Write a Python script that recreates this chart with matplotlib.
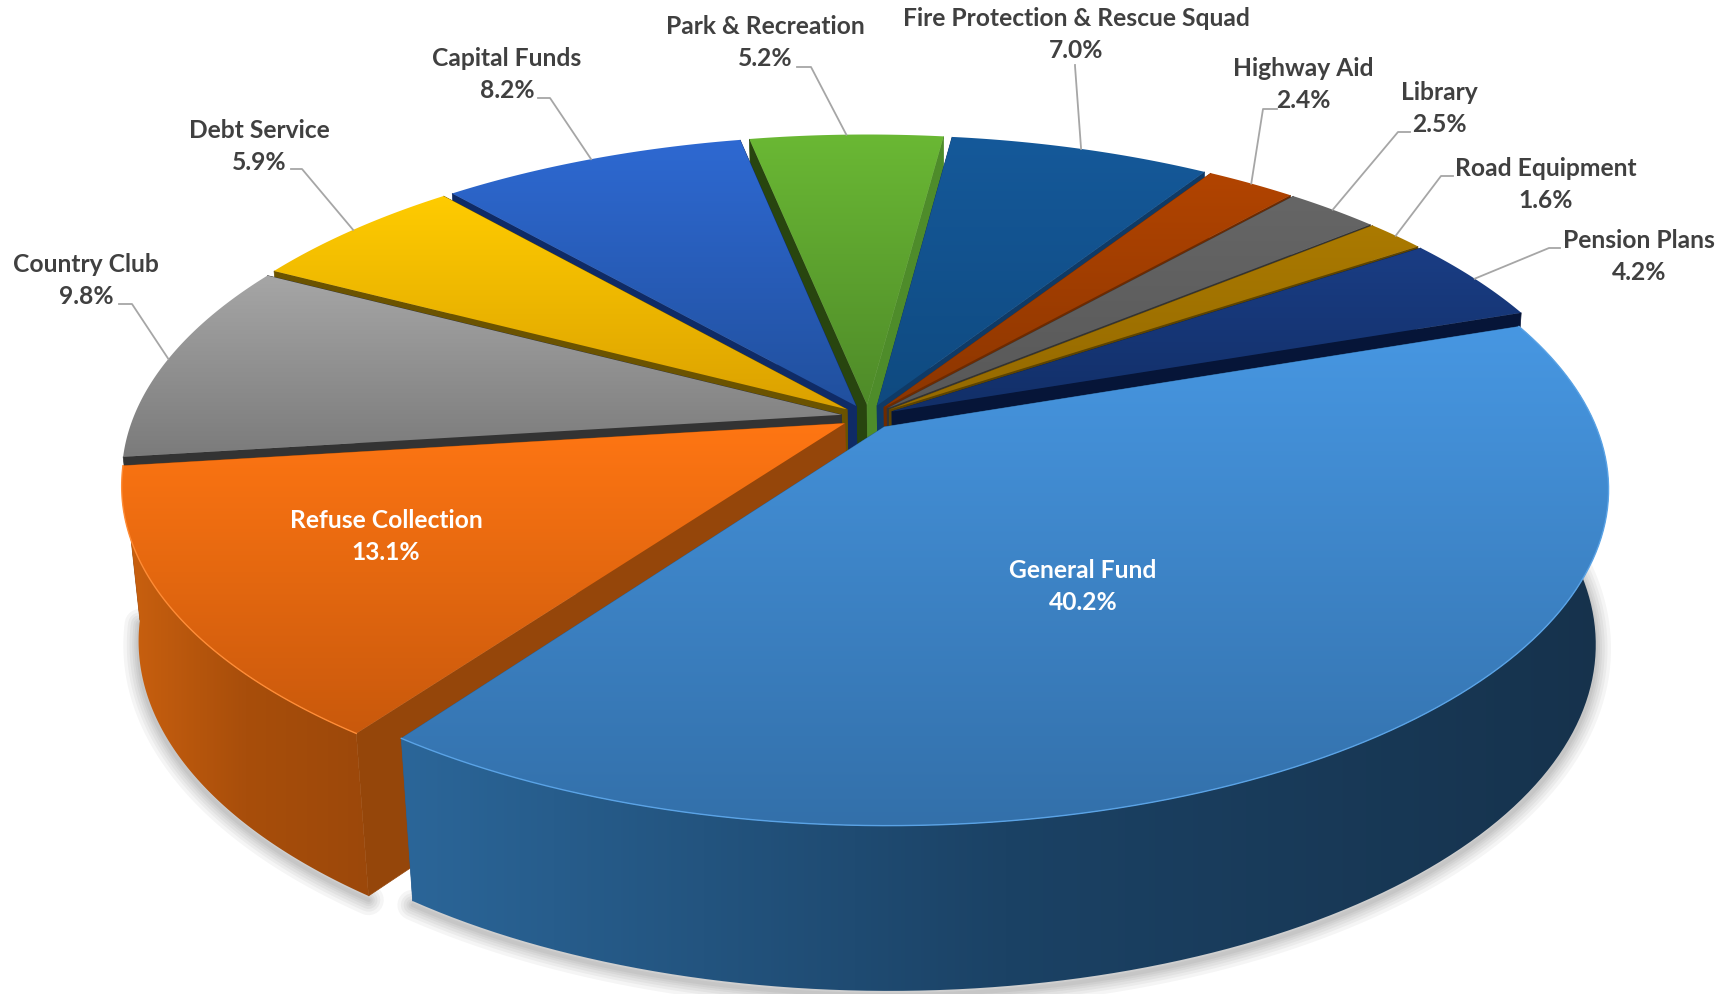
import numpy as np
import matplotlib
matplotlib.use("Agg")
import matplotlib.pyplot as plt
from matplotlib.colors import to_rgb
from matplotlib.patches import Polygon

plt.rcParams['font.family'] = ['Lato', 'DejaVu Sans']

# data, clockwise from the General Fund
names = ['General Fund', 'Refuse Collection', 'Country Club', 'Debt Service', 'Capital Funds',
         'Park & Recreation', 'Fire Protection & Rescue Squad', 'Highway Aid', 'Library',
         'Road Equipment', 'Pension Plans']
shares = [40.2, 13.1, 9.8, 5.9, 8.2, 5.2, 7.0, 2.4, 2.5, 1.6, 4.2]

# colours
top_light = ['#4797E2', '#FF7613', '#A6A6A6', '#FFCC00', '#2E69D2', '#6AB834', '#15599A', '#B24400', '#666666', '#AB7A00', '#1A3D84']
top_dark = ['#3370AA', '#C9590C', '#7B7B7B', '#DBA100', '#21509E', '#4F8B29', '#0F4A80', '#8C3600', '#585858', '#946900', '#122F68']
wall_start = ['#2A5F90', '#95460A', '#333333', '#6B5300', '#0F2B66', '#28450F', '#0F3A66', '#7A2E00', '#3A3A3A', '#6B4D00', '#0E2450']
wall_end = ['#2A5F90', '#95460A', '#333333', '#6B5300', '#0F2B66', '#4E8C2A', '#0F3A66', '#6E2A00', '#333333', '#5E4400', '#061538']
rim_cols = {0: ['#2B6699', '#1B4265', '#16324C'], 1: ['#CB610F', '#A84E0B', '#9C480A']}
edge_cols = {0: '#5AA3E6', 1: '#FF8C36'}

# layout in pixels
cx, cy = 868, 418
rad_x, rad_y = 708, 323
persp = 0.18
explode = 0.038
drop = 153
shift_x = 2
shrink_x, stretch_y = 0.98, 1.03
start_angle = 19

label_pos = [(1083, 570), (386, 521), (86, 265), (259, 130), (507, 59), (765, 26),
             (1076, 18), (1303, 68), (1439, 92), (1546, 168), (1639, 241)]
# elbow end next to the text, then the elbow itself
leader_pts = [None, None, [(119, 305), (132, 305)], [(291, 170), (302, 170)], [(538, 99), (550, 99)],
              [(797, 68), (811, 68)], [(1075, 66), (1075, 67)], [(1277, 110), (1263, 110)],
              [(1410, 133), (1398, 133)], [(1453, 177), (1441, 177)], [(1560, 249), (1549, 249)]]


def project(x, y):
    s = 1 / (1 + persp * y)
    return np.column_stack((cx + rad_x * x * s, cy - rad_y * y * s))


def lower(pts):
    out = pts.copy()
    out[:, 0] = cx + shift_x + shrink_x * (pts[:, 0] - cx)
    out[:, 1] = cy + drop + stretch_y * (pts[:, 1] - cy)
    return out


def gradient(ax, poly, cols, horizontal, z):
    x0, y0 = poly.min(axis=0)
    x1, y1 = poly.max(axis=0)
    cols = np.array([to_rgb(c) for c in cols])
    t = np.linspace(0, 1, 256)
    stops = np.linspace(0, 1, len(cols))
    ramp = np.stack([np.interp(t, stops, cols[:, k]) for k in range(3)], axis=1)
    img = ramp[None, :, :] if horizontal else ramp[:, None, :]
    im = ax.imshow(img, extent=(x0, x1, y1, y0), aspect='auto', zorder=z, interpolation='bilinear')
    im.set_clip_path(Polygon(poly, closed=True, transform=ax.transData))


fig = plt.figure(figsize=(17.32, 9.95), dpi=100)
ax = fig.add_axes([0, 0, 1, 1])

fracs = np.array(shares) / sum(shares) * 360
ends = start_angle - np.cumsum(fracs)
starts = ends + fracs
mids = np.radians((starts + ends) / 2)

# soft shadow under the near side
for i in (0, 1):
    t = np.radians(np.linspace(starts[i], ends[i], 120))
    ox, oy = explode * np.cos(mids[i]), explode * np.sin(mids[i])
    base = lower(project(ox + np.cos(t), oy + np.sin(t))) + [0, 4]
    for lw in (22, 17, 13, 9, 6, 3):
        ax.plot(base[:, 0], base[:, 1], color='black', alpha=0.04, lw=lw, zorder=1, solid_capstyle='round')

z = 2
for i in np.argsort(-np.sin(mids)):
    t = np.radians(np.linspace(starts[i], ends[i], 120))
    ox, oy = explode * np.cos(mids[i]), explode * np.sin(mids[i])
    arc = project(ox + np.cos(t), oy + np.sin(t))
    apex = project(np.array([ox]), np.array([oy]))
    arc_low = lower(arc)
    apex_low = lower(apex)

    # radial walls
    for rim_pt, rim_low, col in ((arc[0], arc_low[0], wall_start[i]), (arc[-1], arc_low[-1], wall_end[i])):
        wall = np.vstack((apex, rim_pt, rim_low, apex_low))
        ax.add_patch(Polygon(wall, closed=True, fc=col, ec=col, lw=0.5, zorder=z))
        z += 1

    # outer side, only the two near slices show one
    if i in rim_cols:
        side = np.vstack((arc, arc_low[::-1]))
        gradient(ax, side, rim_cols[i], True, z)
        z += 1

    # top face
    face = np.vstack((apex, arc))
    gradient(ax, face, [top_light[i], top_dark[i]], False, z)
    z += 1
    if i in edge_cols:
        ax.plot(arc[:, 0], arc[:, 1], color=edge_cols[i], lw=1.0, zorder=z)
        z += 1

# labels
z += 1
for i, name in enumerate(names):
    lx, ly = label_pos[i]
    col = 'white' if i < 2 else '#404040'
    ax.text(lx, ly, name, ha='center', va='center', color=col, fontsize=17.7, fontweight='bold', zorder=z)
    ax.text(lx, ly + 32, '%.1f%%' % shares[i], ha='center', va='center', color=col, fontsize=17.7,
            fontweight='bold', zorder=z)
    if leader_pts[i]:
        ox, oy = explode * np.cos(mids[i]), explode * np.sin(mids[i])
        tip = project(np.array([ox + np.cos(mids[i])]), np.array([oy + np.sin(mids[i])]))[0]
        xs = [p[0] for p in leader_pts[i]] + [tip[0]]
        ys = [p[1] for p in leader_pts[i]] + [tip[1]]
        ax.plot(xs, ys, color='#A6A6A6', lw=1.3, zorder=z - 1)

ax.set_xlim(0, 1732)
ax.set_ylim(995, 0)
ax.axis('off')
fig.savefig('out.png', dpi=100, facecolor='white')
